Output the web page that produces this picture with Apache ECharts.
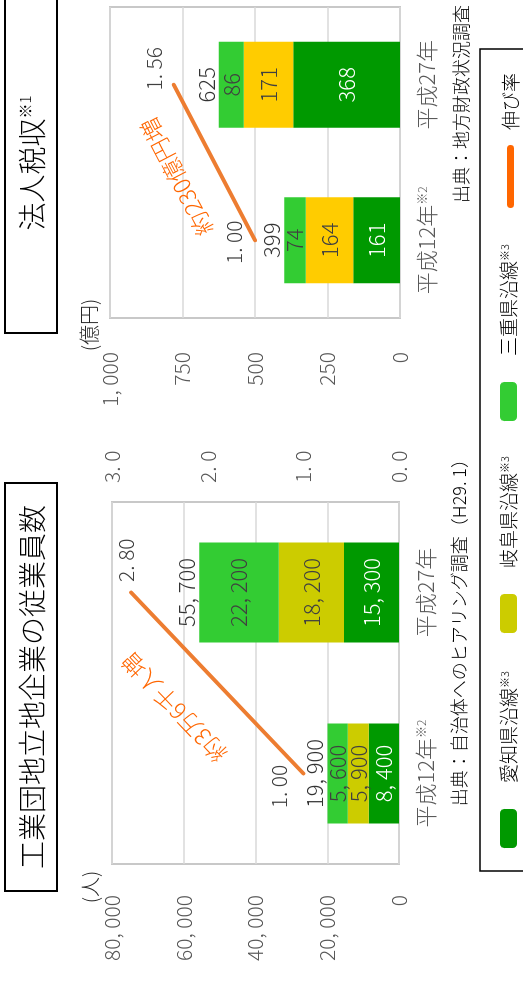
<!DOCTYPE html>
<html>
<head>
<meta charset="utf-8">
<script src="https://cdn.jsdelivr.net/npm/echarts@6/dist/echarts.min.js"></script>
<style>
  html, body { margin: 0; padding: 0; background: #fff; overflow: hidden; }
  #main {
    position: absolute;
    left: 0;
    top: 0;
    width: 985px;
    height: 523px;
    transform-origin: 0 0;
    transform: translate(0, 985px) rotate(-90deg);
  }
</style>
</head>
<body>
<div id="main"></div>
<script>
// カテゴリ
const years = ['平成12年', '平成27年']
const yearNotes = ['※2', '']

// 従業員数（人）
const aichiEmp = [8400, 15300]
const gifuEmp = [5900, 18200]
const mieEmp = [5600, 22200]
const rateEmp = [1.00, 2.80]

// 法人税収（億円）
const aichiTax = [161, 368]
const gifuTax = [164, 171]
const mieTax = [74, 86]
const rateTax = [1.00, 1.56]

// 目盛
const empTicks = [0, 20000, 40000, 60000, 80000]
const rateTicks = [0, 1, 2, 3]
const taxTicks = [0, 250, 500, 750, 1000]
const taxRateTicks = [0, 1, 2]

const FONT = 'Noto Sans CJK JP'
const LIGHT = 300

function comma(v) {
  return String(v).replace(/\B(?=(\d{3})+(?!\d))/g, ', ')
}
function dec(v, n) {
  return v.toFixed(n).replace('.', '. ')
}
function sum(arrs) {
  return arrs[0].map((_, i) => arrs.reduce((s, a) => s + a[i], 0))
}

const myChart = echarts.init(document.getElementById('main'))

function catAxis(gridIndex) {
  return {
    type: 'category',
    gridIndex: gridIndex,
    data: years,
    axisLine: { show: false },
    axisTick: { show: false },
    axisLabel: {
      margin: 16,
      formatter: (v, i) => '{a|' + v + '}{s|' + yearNotes[i] + '}',
      rich: {
        a: { fontSize: 22, color: '#595959', fontFamily: FONT, fontWeight: LIGHT },
        s: { fontSize: 12, color: '#595959', fontFamily: FONT, fontWeight: LIGHT, verticalAlign: 'top' }
      }
    }
  }
}

function valAxis(gridIndex, ticks, opts) {
  return Object.assign({
    type: 'value',
    gridIndex: gridIndex,
    min: ticks[0],
    max: ticks[ticks.length - 1],
    interval: ticks[1] - ticks[0],
    axisLine: { show: false },
    axisTick: { show: false },
    splitLine: { lineStyle: { color: '#D9D9D9', width: 1.5 } },
    axisLabel: { fontSize: 21, color: '#595959', fontFamily: FONT, fontWeight: LIGHT }
  }, opts)
}

function barSeries(name, stack, xi, yi, data, color, labelColor, width) {
  return {
    name: name,
    type: 'bar',
    stack: stack,
    xAxisIndex: xi,
    yAxisIndex: yi,
    data: data,
    barWidth: width,
    itemStyle: { color: color },
    label: {
      show: true,
      position: 'inside',
      color: labelColor,
      fontSize: 22,
      fontFamily: FONT,
      fontWeight: LIGHT,
      formatter: p => comma(p.value)
    }
  }
}

function totalSeries(xi, yi, data) {
  return {
    type: 'scatter',
    xAxisIndex: xi,
    yAxisIndex: yi,
    data: data,
    symbolSize: 1,
    itemStyle: { color: 'rgba(0,0,0,0)' },
    silent: true,
    label: {
      show: true,
      position: 'top',
      distance: 1,
      color: '#000',
      fontSize: 22,
      fontFamily: FONT,
      fontWeight: LIGHT,
      formatter: p => comma(p.value)
    }
  }
}

// 伸び率ラベルの置き方
const rateLabelEmp = [
  { position: 'top', distance: 13, offset: [-13, 0] },
  { position: 'right', distance: 10, offset: [0, -5] }
]
const rateLabelTax = [
  { position: 'top', distance: 10, offset: [-2, 0] },
  { position: 'top', distance: 9, offset: [16, 0] }
]

function rateSeries(xi, yi, data, labels) {
  return {
    name: '伸び率',
    type: 'line',
    xAxisIndex: xi,
    yAxisIndex: yi,
    symbol: 'circle',
    symbolSize: 1,
    itemStyle: { color: '#ED7D31' },
    lineStyle: { color: '#ED7D31', width: 4, cap: 'round' },
    data: data.map((v, i) => ({ value: v, label: labels[i] })),
    label: {
      show: true,
      color: '#404040',
      fontSize: 21,
      fontFamily: FONT,
      fontWeight: LIGHT,
      formatter: p => dec(p.value, 2)
    },
    z: 5
  }
}

function legendItem(name, left, gap, extra) {
  return Object.assign({
    data: [name],
    left: left,
    top: 494,
    itemWidth: 39,
    itemHeight: 17,
    selectedMode: false,
    formatter: n => n === '伸び率' ? n : n + '{s|※3}',
    textStyle: {
      fontSize: 19,
      color: '#000',
      fontFamily: FONT,
      fontWeight: LIGHT,
      padding: [0, 0, 0, gap],
      rich: { s: { fontSize: 11, color: '#000', fontFamily: FONT, fontWeight: LIGHT, verticalAlign: 'top' } }
    }
  }, extra)
}

myChart.setOption({
  animation: false,
  textStyle: { fontFamily: FONT },
  grid: [
    { left: 121, top: 112, width: 362, height: 287, show: true, borderColor: '#C8C8C8', borderWidth: 2 },
    { left: 667, top: 110, width: 311, height: 290, show: true, borderColor: '#C8C8C8', borderWidth: 2 }
  ],
  xAxis: [catAxis(0), catAxis(1)],
  yAxis: [
    valAxis(0, empTicks, {
      position: 'left',
      axisLabel: { fontSize: 21, color: '#595959', fontFamily: FONT, fontWeight: LIGHT, margin: 31, formatter: v => comma(v) },
      name: '(人)',
      nameLocation: 'end',
      nameGap: 12,
      nameTextStyle: { fontSize: 20, color: '#262626', fontFamily: FONT, fontWeight: LIGHT, align: 'center', padding: [0, 46, 0, 0] }
    }),
    valAxis(0, rateTicks, {
      position: 'right',
      splitLine: { show: false },
      axisLabel: { fontSize: 21, color: '#595959', fontFamily: FONT, fontWeight: LIGHT, margin: 19, formatter: v => dec(v, 1) }
    }),
    valAxis(1, taxTicks, {
      position: 'left',
      axisLabel: { fontSize: 21, color: '#595959', fontFamily: FONT, fontWeight: LIGHT, margin: 34, formatter: v => comma(v) },
      name: '(億円)',
      nameLocation: 'end',
      nameGap: 10,
      nameTextStyle: { fontSize: 20, color: '#262626', fontFamily: FONT, fontWeight: LIGHT, align: 'center', padding: [0, 14, 0, 0] }
    }),
    valAxis(1, taxRateTicks, { position: 'right', show: false, splitLine: { show: false } })
  ],
  legend: [
    legendItem('愛知県沿線', 132, 21),
    legendItem('岐阜県沿線', 347, 21),
    legendItem('三重県沿線', 559, 21),
    legendItem('伸び率', 772, 10, {
      top: 496,
      itemWidth: 63,
      itemHeight: 7,
      data: [{
        name: '伸び率',
        icon: 'path://M3.5,0 L59.5,0 A3.5,3.5 0 0 1 59.5,7 L3.5,7 A3.5,3.5 0 0 1 3.5,0 Z',
        itemStyle: { color: '#FF6600' }
      }]
    })
  ],
  series: [
    barSeries('愛知県沿線', 'emp', 0, 0, aichiEmp, '#009900', '#fff', 100),
    barSeries('岐阜県沿線', 'emp', 0, 0, gifuEmp, '#CCCC00', '#404040', 100),
    barSeries('三重県沿線', 'emp', 0, 0, mieEmp, '#33CC33', '#404040', 100),
    totalSeries(0, 0, sum([aichiEmp, gifuEmp, mieEmp])),
    rateSeries(0, 1, rateEmp, rateLabelEmp),
    barSeries('愛知県沿線', 'tax', 1, 2, aichiTax, '#009900', '#fff', 86),
    barSeries('岐阜県沿線', 'tax', 1, 2, gifuTax, '#FFCC00', '#404040', 86),
    barSeries('三重県沿線', 'tax', 1, 2, mieTax, '#33CC33', '#404040', 86),
    totalSeries(1, 2, sum([aichiTax, gifuTax, mieTax])),
    rateSeries(1, 3, rateTax, rateLabelTax)
  ]
})

// 線に沿った注記
function note(id, xi, yi, data, text, off, along) {
  const p0 = myChart.convertToPixel({ xAxisIndex: xi, yAxisIndex: yi }, [years[0], data[0]])
  const p1 = myChart.convertToPixel({ xAxisIndex: xi, yAxisIndex: yi }, [years[1], data[1]])
  const a = Math.atan2(p0[1] - p1[1], p1[0] - p0[0])
  const mx = (p0[0] + p1[0]) / 2
  const my = (p0[1] + p1[1]) / 2
  return {
    id: id,
    type: 'text',
    x: mx - Math.sin(a) * off + Math.cos(a) * along,
    y: my - Math.cos(a) * off - Math.sin(a) * along,
    rotation: a,
    style: {
      text: text,
      fill: '#FF6600',
      font: LIGHT + ' 23px "' + FONT + '"',
      align: 'center',
      verticalAlign: 'middle'
    }
  }
}

const lightFont = size => LIGHT + ' ' + size + 'px "' + FONT + '"'

myChart.setOption({
  graphic: [
    { id: 'title1box', type: 'rect', shape: { x: 94, y: 5, width: 408, height: 52 }, style: { fill: 'none', stroke: '#000', lineWidth: 2 } },
    { id: 'title1', type: 'text', x: 298, y: 32, style: { text: '工業団地立地企業の従業員数', fill: '#000', font: lightFont(28), align: 'center', verticalAlign: 'middle' } },
    { id: 'title2box', type: 'rect', shape: { x: 652, y: 5, width: 340, height: 52 }, style: { fill: 'none', stroke: '#000', lineWidth: 2 } },
    {
      id: 'title2', type: 'text', x: 822, y: 32,
      style: {
        text: '{a|法人税収}{s|※1}',
        rich: {
          a: { fontSize: 28, fontFamily: FONT, fontWeight: LIGHT, fill: '#000' },
          s: { fontSize: 15, fontFamily: FONT, fontWeight: LIGHT, fill: '#000', verticalAlign: 'top' }
        },
        align: 'center',
        verticalAlign: 'middle'
      }
    },
    { id: 'src1', type: 'text', x: 535, y: 459, style: { text: '出典：自治体へのヒアリング調査（H29. 1）', fill: '#000', font: lightFont(18), align: 'right', verticalAlign: 'middle' } },
    { id: 'src2', type: 'text', x: 980, y: 461, style: { text: '出典：地方財政状況調査', fill: '#000', font: lightFont(18), align: 'right', verticalAlign: 'middle' } },
    { id: 'legendbox', type: 'rect', shape: { x: 114, y: 480, width: 822, height: 80 }, style: { fill: 'none', stroke: '#000', lineWidth: 1.5 } },
    note('note1', 0, 1, rateEmp, '約3万6千人増', 48, 12),
    note('note2', 1, 3, rateTax, '約230億円増', 40, 5)
  ]
})
</script>
</body>
</html>
